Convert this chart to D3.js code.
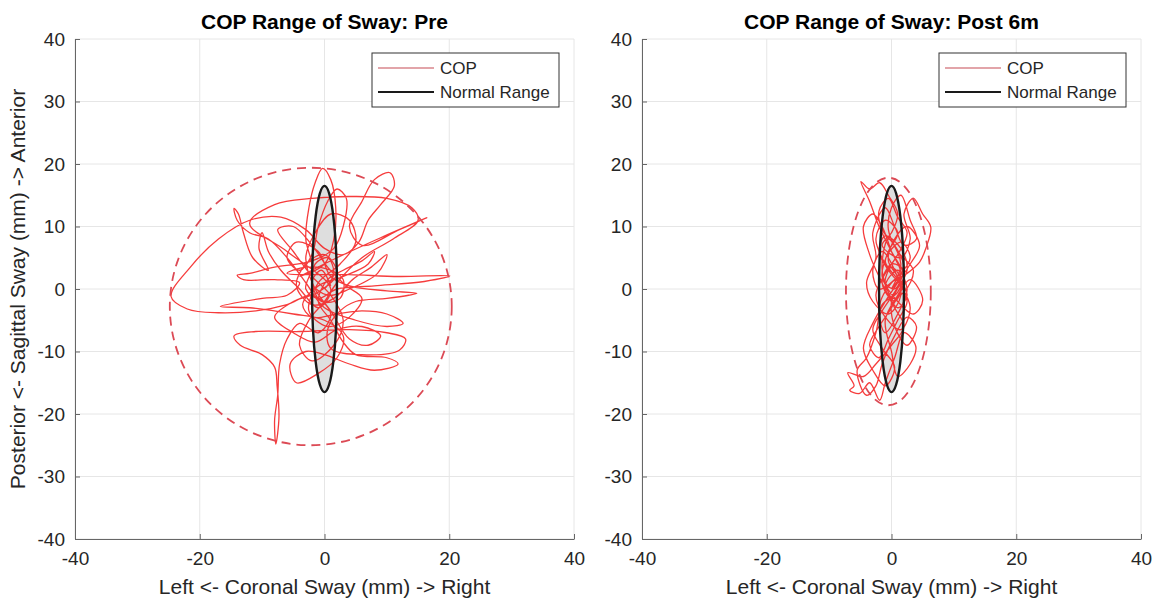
<!DOCTYPE html>
<html>
<head>
<meta charset="utf-8">
<style>
  body { margin: 0; background: #fff; }
  text { font-family: "Liberation Sans", Arial, sans-serif; fill: #262626; }
  .grid line { stroke: #e6e6e6; stroke-width: 1; }
  .axis path, .axis line { stroke: #666; }
  .tick text { font-size: 19px; }
</style>
</head>
<body>
<svg width="1154" height="599"></svg>
<script src="https://d3js.org/d3.v7.min.js"></script>
<script>
// tick values
var xTicks = [-40, -20, 0, 20, 40];
var yTicks = [-40, -30, -20, -10, 0, 10, 20, 30, 40];

// COP path, pre
var preX = [0.0, 1.5, 0.5, -1.5, -2.0, -0.5, 2.5, 3.0, 1.0, -3.0, -6.0, 4.0, 12.0, 20.1, 16.0, 8.0, 2.0, -1.0, -3.0, -2.0,
  -3.0, -2.5, -1.5, -0.3, 1.0, 1.8, 1.5, 0.0, -4.0, 2.0, 9.0, 16.4, 12.0, 6.0, 4.0, 6.0, 8.0, 10.5, 11.2, 9.0,
  7.0, 5.5, 3.0, 0.0, -3.0, -7.0, -12.0, -17.0, -21.5, -24.6, -22.0, -17.0, -11.0, -6.0, -2.0, 1.0, -1.0, -4.0, -6.0, -7.2,
  -7.5, -8.0, -7.8, -7.3, -7.6, -8.0, -10.0, -13.5, -14.5, -11.0, -4.0, 4.0, 10.0, 13.0, 12.0, 6.0, 1.0, 0.5, 2.5, 5.0,
  10.0, 13.5, 14.8, 10.0, 4.0, 1.0, -1.0, -4.5, -6.0, -4.0, -2.0, -1.0, 0.5, 2.0, 3.5, 3.0, 1.5, -2.0, -8.0, -12.0,
  -14.0, -13.0, -8.0, -4.0, -6.0, -10.0, -16.7, -12.0, -5.0, 0.0, 3.0, 2.0, -1.0, -4.5, -5.5, -3.0, 0.0, 4.0, 8.0, 11.8,
  10.0, 5.0, 3.0, 1.0, -1.0, 0.5, 3.0, 6.0, 8.0, 7.0, 3.0, -1.0, -3.5, -2.0, 2.0, 6.0, 10.0, 12.6, 10.0, 5.0,
  0.0, -3.0, -6.0, -9.0, -12.0, -14.0, -14.5, -13.8, -13.0, -11.5, -9.0, -10.5, -10.0, -9.0, -7.0, -4.0, -1.0, 1.0, -6.0, -12.0,
  -8.0, -2.0, 4.0, 10.0, 14.0, 15.0, 11.0, 6.0, 2.0, 0.0,
  -2.5, -4.0, -2.0, 1.5, 3.0, 1.0, -2.0, -5.0, -7.5, -5.0, -2.0, 0.5, 3.5, 6.0, 4.0, 0.5, -2.5, -1.0, 2.5, 5.0,
  4.0, 1.0, -1.5, -3.0, -1.5, 1.0, 4.0, 7.0, 9.0, 6.0, 2.0, -1.5, -5.0, -8.0, -5.0, -1.0, 2.0, 0.0, -3.0, -4.5,
  -2.0, 1.5, 4.5, 7.5, 10.0, 8.5, 4.0, 0.5, -2.0, -0.5, 1.0];
var preY = [0.0, 2.5, 5.0, 4.0, 1.0, -2.0, -1.5, 1.5, 3.0, 3.5, 2.5, 2.3, 2.0, 2.1, 1.2, 0.5, 0.0, -1.5, 0.0, 3.5,
  8.0, 13.0, 17.0, 19.3, 17.5, 13.0, 8.0, 4.0, 2.0, 5.0, 8.2, 11.4, 9.5, 7.0, 10.0, 14.0, 17.5, 18.6, 16.5, 13.5,
  11.0, 7.5, 5.5, 6.5, 9.5, 11.5, 11.0, 8.0, 3.5, -1.2, -3.2, -3.8, -3.5, -2.5, -1.0, -4.0, -7.0, -5.5, -8.0, -12.0,
  -17.0, -21.0, -24.8, -20.5, -15.5, -12.5, -10.5, -9.0, -7.5, -6.8, -6.8, -6.5, -7.0, -8.0, -9.8, -10.5, -9.5, -6.5, -3.5, -2.0,
  -1.5, -1.0, -0.7, -0.3, 0.5, 2.0, 6.0, 7.5, 5.0, 3.0, 5.5, 10.0, 14.0, 16.0, 14.5, 10.0, 6.5, 4.5, 3.5, 2.5,
  2.2, 1.5, 1.5, 1.0, -1.0, -1.5, -2.8, -3.0, -4.0, -5.0, -7.5, -11.0, -13.5, -15.0, -12.0, -10.0, -10.5, -12.0, -13.0, -12.0,
  -11.0, -10.5, -8.5, -5.0, -2.0, 1.5, 3.0, 4.5, 6.0, 4.0, 2.0, 0.5, -2.5, -4.5, -4.0, -3.5, -4.0, -5.5, -6.0, -5.0,
  -3.0, 1.0, 5.0, 8.0, 9.0, 11.0, 12.9, 12.0, 9.0, 5.0, 3.0, 6.5, 9.0, 6.0, 3.0, 0.0, -3.0, 0.0, 6.0, 10.5,
  13.5, 14.5, 14.8, 14.5, 13.0, 11.0, 8.0, 5.0, 1.0, -2.0,
  -5.0, -9.0, -11.5, -9.0, -5.0, -1.0, 2.0, 6.0, 9.5, 10.0, 7.0, 3.5, 0.5, -1.5, -4.5, -6.0, -3.5, 1.0, 4.0, 7.5,
  11.0, 12.0, 9.0, 5.0, 0.0, -3.5, -8.0, -9.0, -7.5, -6.0, -6.5, -8.5, -7.0, -4.5, -2.0, -0.5, 2.5, 5.5, 4.0, 0.5,
  -2.5, -1.5, 1.5, 3.5, 5.5, 2.5, 0.0, -1.0, 1.0, 3.0, 0.5];

// COP path, post 6m
var postX = [0.0, 1.5, -0.5, -1.5, 0.5, 2.0, 0.0, -2.0, -3.5, -4.9, -3.5, -1.9, -0.5, 1.0, 0.0, -1.5, 1.5, 3.0, 2.0, 3.5,
  5.0, 6.3, 5.5, 4.5, 2.5, 0.0, -2.0, -1.0, 1.0, 2.5, 1.0, -1.0, 0.5, 2.0, 0.0, -2.5, -4.5, -7.0, -6.0, -6.7,
  -5.1, -3.5, -1.9, -1.0, 0.5, 2.0, 3.9, 3.0, 1.0, 0.0, -1.0, 1.0, 3.0, 5.0, 3.5, 1.0, -1.5, -0.5, 1.0, -1.0,
  -2.5, -1.0, 1.5, 0.0, -2.0, -3.5, -2.0, -0.5, 1.0, 2.5, 1.0, -1.0, 1.5, 3.0, 1.0, -2.0, -3.0, -1.5, 0.5, 1.5,
  -0.5, -3.0, -4.0, -2.5, -3.0, -1.0, 0.5, 2.0, 4.0, 3.0, 1.5, 0.0, -0.5, 1.0, 3.5, 2.0, 0.0, -1.5, 0.0, 2.0,
  1.0, -1.5, -2.5, -4.0, -5.5, -4.0, -2.5, -1.5, 0.5, 2.5, 4.0, 2.5, 0.5, 0.0, 1.5, 0.0, -1.0, 0.5,
  2.0, 0.5, -1.5, -2.0, -0.5, 1.0, 2.5, 1.0, -1.0, -2.5, -1.0, 1.5, 3.0, 1.5, -0.5, -2.0, -1.0, 1.5, 2.5, 0.5,
  -1.5, -3.0, -1.5, 0.5, -1.0, -3.0, -4.5, -3.0, -1.0, 1.0, 3.0, 4.5, 2.5, 0.5, -0.5, 1.0, 2.5, 1.0, -0.5, -2.0,
  -3.5, -4.5, -3.0, -1.5, 0.0, 1.5, 0.0];
var postY = [0.0, 4.0, 8.0, 3.0, -2.0, 2.0, 6.0, 10.0, 14.0, 17.2, 16.0, 17.0, 15.0, 12.0, 9.0, 7.0, 5.0, 8.0, 12.0, 14.5,
  12.0, 9.9, 6.5, 4.3, 2.5, 1.0, -3.0, -7.0, -4.0, 0.0, 3.0, 0.5, -3.0, -6.0, -9.0, -12.0, -14.0, -13.4, -15.5, -16.2,
  -16.7, -15.0, -17.8, -15.0, -11.0, -7.0, -9.2, -12.0, -14.0, -10.0, -5.0, -1.0, 1.5, -1.8, -4.0, -2.0, 2.0, 6.0, 9.0, 11.0,
  8.0, 4.0, 0.5, -3.0, -6.0, -9.0, -11.0, -8.0, -5.0, -2.0, 1.5, 4.5, 7.5, 5.0, 2.0, 0.0, 3.0, 6.0, 3.0, -1.0,
  -4.0, -2.0, 1.0, 5.0, 9.0, 13.0, 10.0, 7.0, 8.0, 11.0, 15.0, 13.0, 9.5, 6.0, 3.0, -0.5, -1.5, 1.0, 4.0, 3.0,
  -0.5, -2.5, -7.0, -11.0, -13.0, -17.0, -15.5, -12.0, -7.5, -4.5, -6.0, -9.0, -6.0, -2.0, 1.5, 3.5, 1.0, 0.0,
  3.5, 7.0, 9.5, 12.5, 14.5, 11.5, 9.0, 5.5, 2.5, -1.0, -4.5, -6.5, -3.0, 0.5, 3.0, 6.0, 8.5, 6.5, 3.0, -0.5,
  -3.5, -6.5, -9.5, -12.5, -15.5, -13.0, -9.5, -5.5, -2.0, 1.0, 4.0, 7.0, 10.0, 8.0, 4.5, 2.0, -1.0, -3.0, -1.0, 2.0,
  5.5, 10.0, 12.0, 10.0, 6.0, 2.5, 0.0];

// ellipses: cx, cy, rx, ry
var normalRange = [0, 0, 2.0, 16.5];
var preSpread = [-2.2, -2.8, 22.6, 22.2];
var postSpread = [-0.5, -0.4, 6.8, 18.2];

var titles = ["COP Range of Sway: Pre", "COP Range of Sway: Post 6m"];
var legendLabels = ["COP", "Normal Range"];

var svg = d3.select("svg");
var red = "#f51a1a";

function panel(left, px, py, spread, title, showYLabel) {
  var w = 499, h = 500, top = 39;
  var g = svg.append("g").attr("transform", "translate(" + left + "," + top + ")");
  var x = d3.scaleLinear().domain([-40, 40]).range([0, w]);
  var y = d3.scaleLinear().domain([-40, 40]).range([h, 0]);

  var grid = g.append("g").attr("class", "grid");
  grid.selectAll(".gx").data(xTicks).enter().append("line")
    .attr("x1", function(d) { return x(d); }).attr("x2", function(d) { return x(d); })
    .attr("y1", 0).attr("y2", h);
  grid.selectAll(".gy").data(yTicks).enter().append("line")
    .attr("y1", function(d) { return y(d); }).attr("y2", function(d) { return y(d); })
    .attr("x1", 0).attr("x2", w);

  // normal range fill
  g.append("ellipse")
    .attr("cx", x(normalRange[0])).attr("cy", y(normalRange[1]))
    .attr("rx", x(normalRange[2]) - x(0)).attr("ry", y(0) - y(normalRange[3]))
    .attr("fill", "#dedede");

  var pts = d3.range(px.length).map(function(i) { return [px[i], py[i]]; });
  var line = d3.line()
    .x(function(d) { return x(d[0]); })
    .y(function(d) { return y(d[1]); })
    .curve(d3.curveCatmullRom.alpha(0.5));
  g.append("path").datum(pts)
    .attr("d", line)
    .attr("fill", "none")
    .attr("stroke", red)
    .attr("stroke-width", 1.3)
    .attr("stroke-opacity", 0.85);

  g.append("ellipse")
    .attr("cx", x(spread[0])).attr("cy", y(spread[1]))
    .attr("rx", x(spread[2]) - x(0)).attr("ry", y(0) - y(spread[3]))
    .attr("fill", "none")
    .attr("stroke", "#dc4a55")
    .attr("stroke-width", 1.8)
    .attr("stroke-dasharray", "9,6");

  g.append("ellipse")
    .attr("cx", x(normalRange[0])).attr("cy", y(normalRange[1]))
    .attr("rx", x(normalRange[2]) - x(0)).attr("ry", y(0) - y(normalRange[3]))
    .attr("fill", "none")
    .attr("stroke", "#1a1a1a")
    .attr("stroke-width", 2.4);

  // axes
  var fmt = function(d) { return String(d); };
  var xAxis = g.append("g").attr("class", "axis").attr("transform", "translate(0," + h + ")")
    .call(d3.axisBottom(x).tickValues(xTicks).tickFormat(fmt).tickSizeInner(-5).tickSizeOuter(0).tickPadding(13));
  xAxis.selectAll(".tick text").attr("dy", "0.71em");
  g.append("g").attr("class", "axis")
    .call(d3.axisLeft(y).tickValues(yTicks).tickFormat(fmt).tickSizeInner(-5).tickSizeOuter(0).tickPadding(10));

  g.append("text")
    .attr("x", w / 2).attr("y", -10)
    .attr("text-anchor", "middle")
    .style("font-size", "21px").style("font-weight", "bold").style("fill", "#000")
    .text(title);

  g.append("text")
    .attr("x", w / 2).attr("y", 555)
    .attr("text-anchor", "middle")
    .style("font-size", "21px")
    .text("Left <- Coronal Sway (mm) -> Right");

  if (showYLabel) {
    g.append("text")
      .attr("transform", "translate(" + (-50) + "," + (h / 2) + ") rotate(-90)")
      .attr("text-anchor", "middle")
      .style("font-size", "21px")
      .text("Posterior <- Sagittal Sway (mm) -> Anterior");
  }

  // legend
  var lg = g.append("g").attr("transform", "translate(" + (w - 202) + ",14)");
  lg.append("rect").attr("width", 187).attr("height", 54)
    .attr("fill", "#fff").attr("stroke", "#333").attr("stroke-width", 1);
  var colors = ["#d9868c", "#1a1a1a"];
  var widths = [1.5, 2.2];
  legendLabels.forEach(function(lab, i) {
    var yy = 15 + i * 24;
    lg.append("line").attr("x1", 6).attr("x2", 62).attr("y1", yy).attr("y2", yy)
      .attr("stroke", colors[i]).attr("stroke-width", widths[i]);
    lg.append("text").attr("x", 68).attr("y", yy).attr("dy", "0.35em")
      .style("font-size", "17px").text(lab);
  });
}

panel(75, preX, preY, preSpread, titles[0], true);
panel(642, postX, postY, postSpread, titles[1], false);
</script>
</body>
</html>
